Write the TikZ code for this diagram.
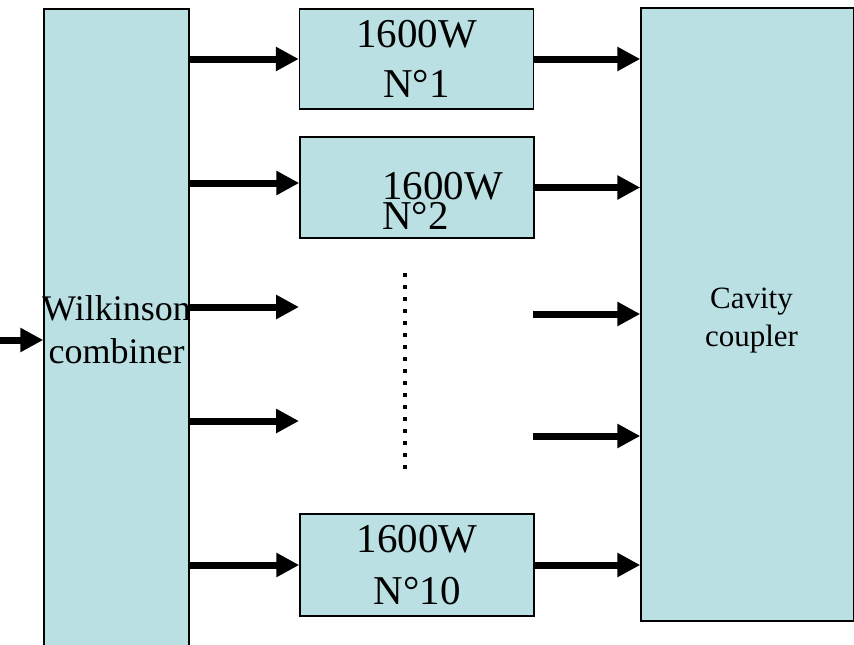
\documentclass[tikz,border=0pt]{standalone}
\usepackage{fontspec}
\setmainfont{Liberation Serif}
\usetikzlibrary{arrows.meta}
\definecolor{rfcyan}{RGB}{186,224,227}
\tikzset{
  rfbox/.style={draw=black, line width=1.5pt, fill=rfcyan, align=center, inner sep=0pt},
  rfamp/.style={rfbox, minimum width=234pt, minimum height=101pt, font=\fontsize{41}{50}\selectfont},
  rflbl/.style={inner sep=0pt},
  rfarr/.style={-{Triangle[length=23pt,width=23pt]}, line width=7pt},
  rfdots/.style={line width=4pt, dash pattern=on 4pt off 8pt}
}

\begin{document}
\begin{tikzpicture}[x=1pt, y=-1pt]
  \useasboundingbox (0,0) rectangle (854,645);
  \node[rfbox, minimum width=145pt, minimum height=650pt] (wilk) at (116.5,334) {};
  \node[rflbl, align=center, font=\fontsize{36}{43}\selectfont] (wilklbl) at (116.5,329.5) {Wilkinson\\combiner};
  \node[rfamp, minimum height=100pt] (amp1) at (416.5,59) {1600W\\N°1};
  \node[rfamp] (amp2) at (417,187.5) {};
  \node[rflbl, anchor=north west, align=left, font=\fontsize{41}{30}\selectfont] (amp2lbl) at (382,172) {1600W\\N°2};
  \node[rfamp, minimum height=102pt, font=\fontsize{41}{52}\selectfont] (amp10) at (417,565) {1600W\\N°10};
  \node[rfbox, minimum width=213pt, minimum height=613pt] (cavity) at (747.5,314.5) {};
  \node[rflbl, align=center, font=\fontsize{31}{38}\selectfont] (cavlbl) at (751.5,321) {Cavity\\coupler};
  \coordinate (src) at (0,340);
  \coordinate (in2) at ([yshift=4.5pt]amp2.west);
  \coordinate (in3) at (299,307);
  \coordinate (in4) at (299,421);
  \coordinate (out3) at (533,314);
  \coordinate (out4) at (533,436);
  \coordinate (dottop) at (405,273);
  \coordinate (dotbot) at (405,469);
  \draw[rfarr] (src) -- (src -| wilk.west);
  \draw[rfarr] (wilk.east |- amp1.west) -- (amp1.west);
  \draw[rfarr] (wilk.east |- in2) -- (in2);
  \draw[rfarr] (wilk.east |- in3) -- (in3);
  \draw[rfarr] (wilk.east |- in4) -- (in4);
  \draw[rfarr] (wilk.east |- amp10.west) -- (amp10.west);
  \draw[rfarr] (amp1.east) -- (amp1.east -| cavity.west);
  \draw[rfarr] (amp2.east) -- (amp2.east -| cavity.west);
  \draw[rfarr] (out3) -- (out3 -| cavity.west);
  \draw[rfarr] (out4) -- (out4 -| cavity.west);
  \draw[rfarr] (amp10.east) -- (amp10.east -| cavity.west);
  \draw[rfdots] (dottop) -- (dotbot);
\end{tikzpicture}
\end{document}
